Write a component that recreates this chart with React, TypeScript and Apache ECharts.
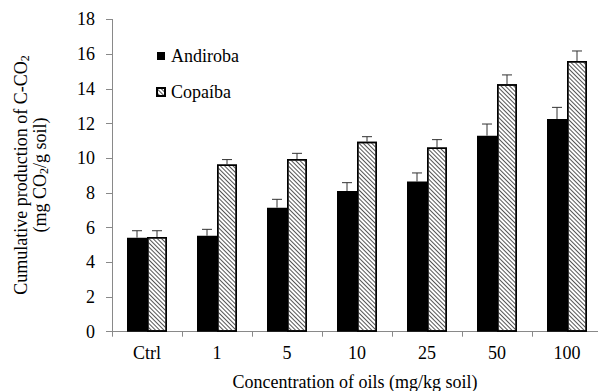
import React, { useEffect, useRef } from "react";
import * as echarts from "echarts";

const categories = ["Ctrl", "1", "5", "10", "25", "50", "100"];
const andiroba = [5.42, 5.53, 7.15, 8.11, 8.65, 11.3, 12.26];
const andirobaErr = [0.4, 0.37, 0.48, 0.48, 0.5, 0.67, 0.67];
const copaiba = [5.46, 9.63, 9.95, 10.95, 10.61, 14.26, 15.6];
const copaibaErr = [0.36, 0.29, 0.33, 0.29, 0.46, 0.54, 0.58];
const yTicks = { min: 0, max: 18, interval: 2 };

const FONT = "'Liberation Serif', 'Times New Roman', serif";
const BAR_W = 20;

function errorSeries(name: string, vals: number[], errs: number[], side: number) {
  return {
    type: "custom",
    name: name + " err",
    z: 5,
    silent: true,
    encode: { x: 0, y: 1 },
    data: vals.map((v, i) => [i, v, errs[i]]),
    renderItem: (params: any, api: any) => {
      const i = api.value(0);
      const v = api.value(1);
      const e = api.value(2);
      const base = api.coord([i, v]);
      const top = api.coord([i, v + e]);
      const x = base[0] + side * (BAR_W / 2);
      const cap = 5;
      const st = { stroke: "#333", lineWidth: 1, fill: null };
      return {
        type: "group",
        children: [
          { type: "line", shape: { x1: x, y1: base[1], x2: x, y2: top[1] }, style: st },
          { type: "line", shape: { x1: x - cap, y1: top[1], x2: x + cap, y2: top[1] }, style: st },
        ],
      };
    },
  };
}

export default function App() {
  const ref = useRef<HTMLDivElement>(null);
  useEffect(() => {
    if (!ref.current) return;
    const chart = echarts.init(ref.current, null, { renderer: "svg" });
    const axisColor = "#898989";
    const rich = {
      a: { fontFamily: FONT, fontSize: 18, lineHeight: 20, fill: "#000", color: "#000" },
      s: { fontFamily: FONT, fontSize: 12, lineHeight: 12, verticalAlign: "bottom", fill: "#000", color: "#000" },
    };
    chart.setOption({
      animation: false,
      backgroundColor: "#fff",
      textStyle: { fontFamily: FONT },
      grid: { left: 112, right: -4, top: 19.4, bottom: 59.3, outerBoundsMode: "none", containLabel: false },
      legend: {
        orient: "vertical",
        left: 151,
        top: 42,
        itemWidth: 8,
        itemHeight: 8,
        itemGap: 18,
        icon: "rect",
        data: ["Andiroba", "Copaíba"],
        textStyle: { fontFamily: FONT, fontSize: 18, color: "#000", padding: [0, 0, 0, 1] },
      },
      xAxis: {
        type: "category",
        data: categories,
        axisLine: { lineStyle: { color: axisColor, width: 1 } },
        axisTick: { show: true, length: 5, lineStyle: { color: axisColor } },
        axisLabel: { fontFamily: FONT, fontSize: 18, color: "#000", margin: 12 },
      },
      yAxis: {
        type: "value",
        min: yTicks.min,
        max: yTicks.max,
        interval: yTicks.interval,
        splitLine: { show: false },
        axisLine: { show: true, lineStyle: { color: axisColor, width: 1 } },
        axisTick: { show: true, length: 6, lineStyle: { color: axisColor } },
        axisLabel: { fontFamily: FONT, fontSize: 18, color: "#000", margin: 17 },
      },
      graphic: [
        {
          type: "text",
          x: 21,
          y: 175,
          rotation: Math.PI / 2,
          style: {
            text: "{a|Cumulative production of C-CO}{s|2}",
            align: "center",
            verticalAlign: "middle",
            fill: "#000",
            rich,
          },
        },
        {
          type: "text",
          x: 40,
          y: 175,
          rotation: Math.PI / 2,
          style: {
            text: "{a|(mg CO}{s|2}{a|/g soil)}",
            align: "center",
            verticalAlign: "middle",
            fill: "#000",
            rich,
          },
        },
        {
          type: "text",
          x: 355,
          y: 382,
          style: {
            text: "Concentration of oils (mg/kg soil)",
            align: "center",
            verticalAlign: "middle",
            fontFamily: FONT,
            fontSize: 18,
            fill: "#000",
          },
        },
      ],
      series: [
        {
          type: "bar",
          name: "Andiroba",
          data: andiroba,
          barWidth: BAR_W,
          barGap: "0%",
          itemStyle: { color: "#000" },
        },
        {
          type: "bar",
          name: "Copaíba",
          data: copaiba,
          barWidth: BAR_W,
          barGap: "0%",
          itemStyle: {
            color: "#fff",
            borderColor: "#000",
            borderWidth: 1.5,
            decal: {
              symbol: "rect",
              symbolSize: 1,
              dashArrayX: [1, 0],
              dashArrayY: [1, 1.2],
              rotation: Math.PI / 4,
              color: "#555",
            },
          },
        },
        errorSeries("Andiroba", andiroba, andirobaErr, -1),
        errorSeries("Copaíba", copaiba, copaibaErr, 1),
      ],
    });
    return () => chart.dispose();
  }, []);
  return <div ref={ref} style={{ position: "fixed", left: 0, top: 0, width: 598, height: 391 }} />;
}
